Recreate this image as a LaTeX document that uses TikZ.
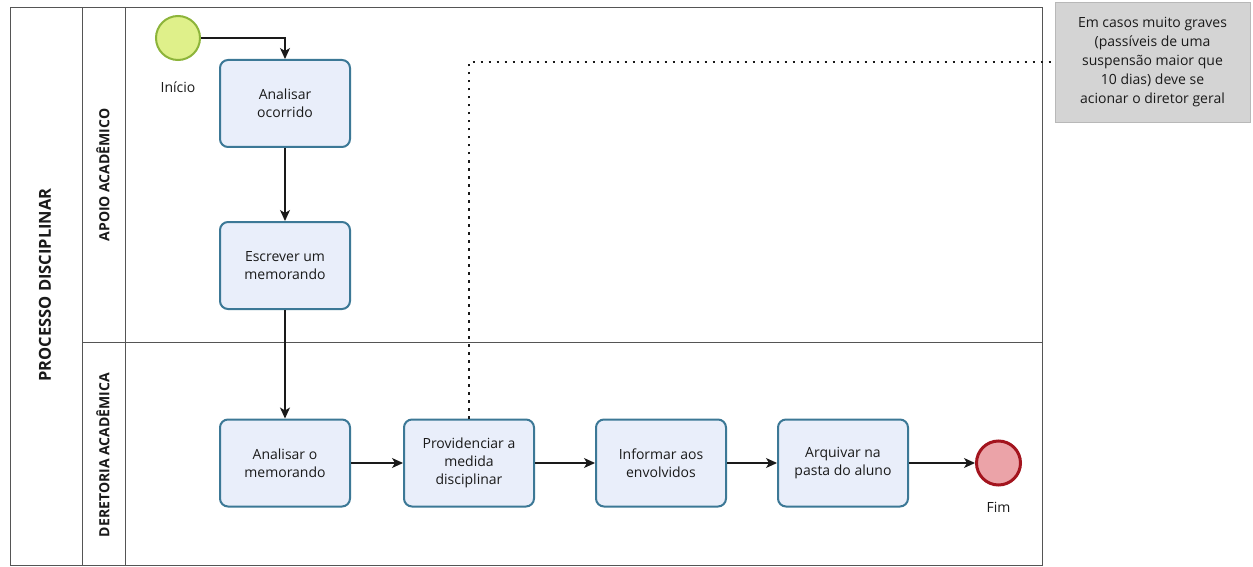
\documentclass[tikz,border=0pt]{standalone}
\usepackage{fontspec}
\setmainfont{Open Sans}
\usepackage{xcolor}
\usepackage{tikz}
\usetikzlibrary{arrows.meta,positioning,calc}
\definecolor{bpmInk}{HTML}{1A1A1A}
\definecolor{bpmLine}{HTML}{555555}
\definecolor{taskEdge}{HTML}{3C7896}
\definecolor{taskFill}{HTML}{E9EEFA}
\definecolor{startEdge}{HTML}{8DB43A}
\definecolor{startFill}{HTML}{DFF08A}
\definecolor{endEdge}{HTML}{A3141E}
\definecolor{endFill}{HTML}{EBA3A8}
\definecolor{noteFill}{HTML}{D4D4D4}
\definecolor{noteEdge}{HTML}{B8B8B8}
\tikzset{
  taskbox/.style={rounded corners=8pt, draw=taskEdge, fill=taskFill, line width=2pt,
                  minimum width=130pt, minimum height=87pt, align=center,
                  font=\fontsize{14}{18}\selectfont, text=bpmInk},
  startev/.style={circle, draw=startEdge, fill=startFill, line width=2pt, minimum size=44pt},
  endev/.style={circle, draw=endEdge, fill=endFill, line width=3pt, minimum size=44pt},
  flow/.style={-{Stealth[length=11pt,width=10pt,inset=3pt]}, line width=1.2pt, draw=bpmInk},
  lanetext/.style={rotate=90, font=\fontsize{14}{16}\selectfont\bfseries, text=bpmInk},
  evlabel/.style={font=\fontsize{14}{16}\selectfont, text=bpmInk},
  notebox/.style={draw=noteEdge, fill=noteFill, minimum width=195pt, minimum height=120pt,
                  align=center, font=\fontsize{14}{19}\selectfont, text=bpmInk},
}
\begin{document}
\begin{tikzpicture}[x=1pt, y=-1pt]
    \useasboundingbox (0,0) rectangle (1253,567);
    \fill[white] (0,0) rectangle (1253,567);
    % pool and lanes
    \draw[bpmLine, line width=1pt] (10,8) rectangle (1042,565);
    \draw[bpmLine, line width=1pt] (82,8) -- (82,565);
    \draw[bpmLine, line width=1pt] (125,8) -- (125,565);
    \draw[bpmLine, line width=1pt] (82,342) -- (1042,342);
    \node[rotate=90, font=\fontsize{16.5}{18}\selectfont\bfseries, text=bpmInk] (pool) at (45,285) {PROCESSO DISCIPLINAR};
    \node[lanetext] (apoio) at (103,175) {APOIO ACADÊMICO};
    \node[lanetext] (diret) at (103,455) {DERETORIA ACADÊMICA};

    % apoio academico
    \node[startev] (ini) at (178,38) {};
    \node[evlabel] (inilbl) at (178,87) {Início};
    \node[taskbox] (ocorr) at (285,103.5) {Analisar\\ocorrido};
    \node[taskbox, below=73pt of ocorr] (memo) {Escrever um\\memorando};

    % diretoria academica
    \node[taskbox] (anmemo) at (285,463) {Analisar o\\memorando};
    \node[taskbox, right=52pt of anmemo] (prov) {Providenciar a\\medida\\disciplinar};
    \node[taskbox, right=60pt of prov] (info) {Informar aos\\envolvidos};
    \node[taskbox, right=50pt of info] (arq) {Arquivar na\\pasta do aluno};
    \node[endev, right=66pt of arq] (fim) {};
    \node[evlabel, below=12pt of fim] (fimlbl) {Fim};

    % annotation
    \node[notebox] (nota) at (1152.5,62) {Em casos muito graves\\(passíveis de uma\\suspensão maior que\\10 dias) deve se\\acionar o diretor geral};

    \draw[flow] (ini) -| (ocorr);
    \draw[flow] (ocorr) -- (memo);
    \draw[flow] (memo) -- (anmemo);
    \draw[flow] (anmemo) -- (prov);
    \draw[flow] (prov) -- (info);
    \draw[flow] (info) -- (arq);
    \draw[flow] (arq) -- (fim);
    \draw[bpmInk, line width=2.5pt, dash pattern=on 2.5pt off 5.5pt] (prov.north) |- (nota.west);
\end{tikzpicture}
\end{document}
